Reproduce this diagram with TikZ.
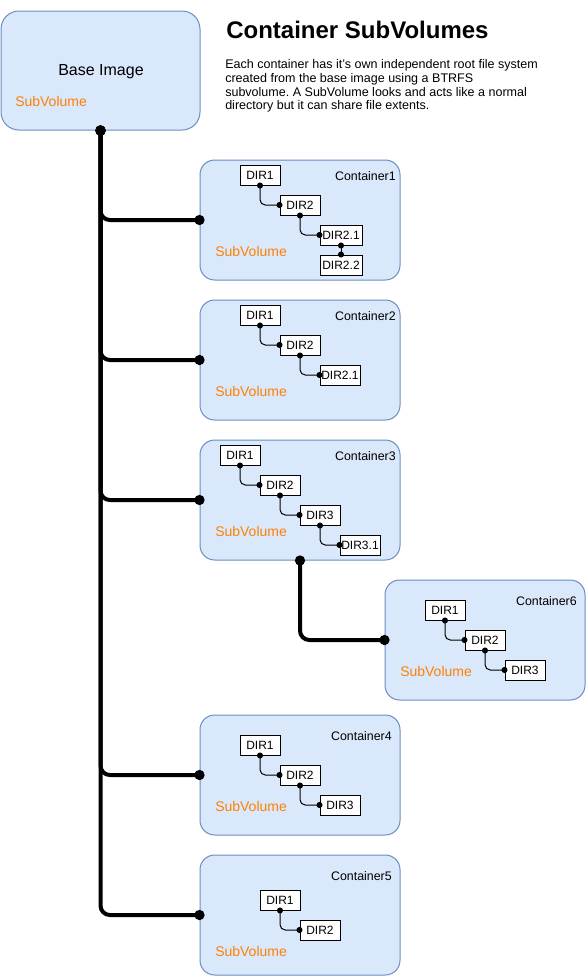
\documentclass[tikz,border=0pt]{standalone}
\usepackage{fontspec}
\setmainfont{Liberation Sans}
\usetikzlibrary{arrows.meta}
\frenchspacing

\definecolor{volfill}{HTML}{DAE8FC}
\definecolor{voldraw}{HTML}{6C8EBF}
\definecolor{volorange}{HTML}{FF8000}

\tikzset{
  volbox/.style={draw=voldraw, fill=volfill, line width=0.75pt, rounded corners=11pt,
    minimum width=150pt, minimum height=90pt, inner sep=0pt},
  dirbox/.style={draw=black, fill=white, line width=0.75pt, minimum width=30pt,
    minimum height=15pt, inner sep=0pt, font=\fontsize{9pt}{10pt}\selectfont},
  volname/.style={anchor=east, inner sep=0pt, font=\fontsize{9.3pt}{10pt}\selectfont},
  sublabel/.style={anchor=west, inner sep=0pt, text=volorange, font=\fontsize{10.5pt}{12pt}\selectfont},
  trunk/.style={line width=3pt, rounded corners=7pt,
    {Circle[length=7.5pt]}-{Circle[length=7.5pt]}, shorten <=-3.75pt, shorten >=-3.75pt},
  twig/.style={line width=0.75pt, rounded corners=4pt,
    {Circle[length=4.5pt]}-{Circle[length=4.5pt]}, shorten <=-2.25pt, shorten >=-2.25pt},
}

\begin{document}
\begin{tikzpicture}[x=0.75pt, y=-0.75pt]
            \useasboundingbox (0,0) rectangle (586,976);

            % base image
            \node[volbox, rounded corners=13.5pt, minimum width=149.25pt, minimum height=89.25pt] (base) at (100.5,70.5) {};
            \node[inner sep=0pt, font=\fontsize{12pt}{14pt}\selectfont] (basetxt) at (101,72) {Base Image};
            \node[sublabel] (basesub) at (15,101) {SubVolume};

            % title and description
            \node[anchor=west, inner sep=0pt, font=\fontsize{18pt}{20pt}\selectfont\bfseries] (title) at (226,30) {Container SubVolumes};
            \node[anchor=north west, inner sep=0pt, align=left, font=\fontsize{9.4pt}{10.4pt}\selectfont] (desc) at (225,59)
              {Each container has it's own independent root file system\\
               created from the base image using a BTRFS\\
               subvolume. A SubVolume looks and acts like a normal\\
               directory but it can share file extents.};

            % containers
            \node[volbox] (c1) at (300,220) {};
            \node[volbox] (c2) at (300,360) {};
            \node[volbox] (c3) at (300,500) {};
            \node[volbox] (c6) at (485,640) {};
            \node[volbox] (c4) at (300,775) {};
            \node[volbox] (c5) at (300,915) {};

            \node[volname] (c1name) at (396,176) {Container1};
            \node[volname] (c2name) at (396,316) {Container2};
            \node[volname] (c3name) at (396,456) {Container3};
            \node[volname] (c6name) at (577,601) {Container6};
            \node[volname] (c4name) at (392,736) {Container4};
            \node[volname] (c5name) at (392,876) {Container5};

            \node[sublabel] (c1sub) at (215,251) {SubVolume};
            \node[sublabel] (c2sub) at (215,391) {SubVolume};
            \node[sublabel] (c3sub) at (215,531) {SubVolume};
            \node[sublabel] (c6sub) at (400,671) {SubVolume};
            \node[sublabel] (c4sub) at (215,806) {SubVolume};
            \node[sublabel] (c5sub) at (215,951) {SubVolume};

            % directories
            \node[dirbox] (c1d1) at (260,175) {DIR1};
            \node[dirbox] (c1d2) at (300,205) {DIR2};
            \node[dirbox, minimum width=31.5pt] (c1d21) at (341,235) {DIR2.1};
            \node[dirbox, minimum width=31.5pt] (c1d22) at (341,265) {DIR2.2};

            \node[dirbox] (c2d1) at (260,315) {DIR1};
            \node[dirbox] (c2d2) at (300,345) {DIR2};
            \node[dirbox] (c2d21) at (340,375) {DIR2.1};

            \node[dirbox] (c3d1) at (240,455) {DIR1};
            \node[dirbox] (c3d2) at (280,485) {DIR2};
            \node[dirbox] (c3d3) at (320,515) {DIR3};
            \node[dirbox] (c3d31) at (360,545) {DIR3.1};

            \node[dirbox] (c6d1) at (445,610) {DIR1};
            \node[dirbox] (c6d2) at (485,640) {DIR2};
            \node[dirbox] (c6d3) at (525,670) {DIR3};

            \node[dirbox] (c4d1) at (260,745) {DIR1};
            \node[dirbox] (c4d2) at (300,775) {DIR2};
            \node[dirbox] (c4d3) at (340,805) {DIR3};

            \node[dirbox] (c5d1) at (280,900) {DIR1};
            \node[dirbox] (c5d2) at (320,930) {DIR2};

            % subvolume links
            \draw[trunk] (base.south) |- (c1.west);
            \draw[trunk] (base.south) |- (c2.west);
            \draw[trunk] (base.south) |- (c3.west);
            \draw[trunk] (base.south) |- (c4.west);
            \draw[trunk] (base.south) |- (c5.west);
            \draw[trunk] (c3.south) |- (c6.west);

            % directory links
            \draw[twig] (c1d1.south) |- (c1d2.west);
            \draw[twig] (c1d2.south) |- (c1d21.west);
            \draw[twig] (c1d21.south) -- (c1d22.north);
            \draw[twig] (c2d1.south) |- (c2d2.west);
            \draw[twig] (c2d2.south) |- (c2d21.west);
            \draw[twig] (c3d1.south) |- (c3d2.west);
            \draw[twig] (c3d2.south) |- (c3d3.west);
            \draw[twig] (c3d3.south) |- (c3d31.west);
            \draw[twig] (c6d1.south) |- (c6d2.west);
            \draw[twig] (c6d2.south) |- (c6d3.west);
            \draw[twig] (c4d1.south) |- (c4d2.west);
            \draw[twig] (c4d2.south) |- (c4d3.west);
            \draw[twig] (c5d1.south) |- (c5d2.west);
\end{tikzpicture}
\end{document}
